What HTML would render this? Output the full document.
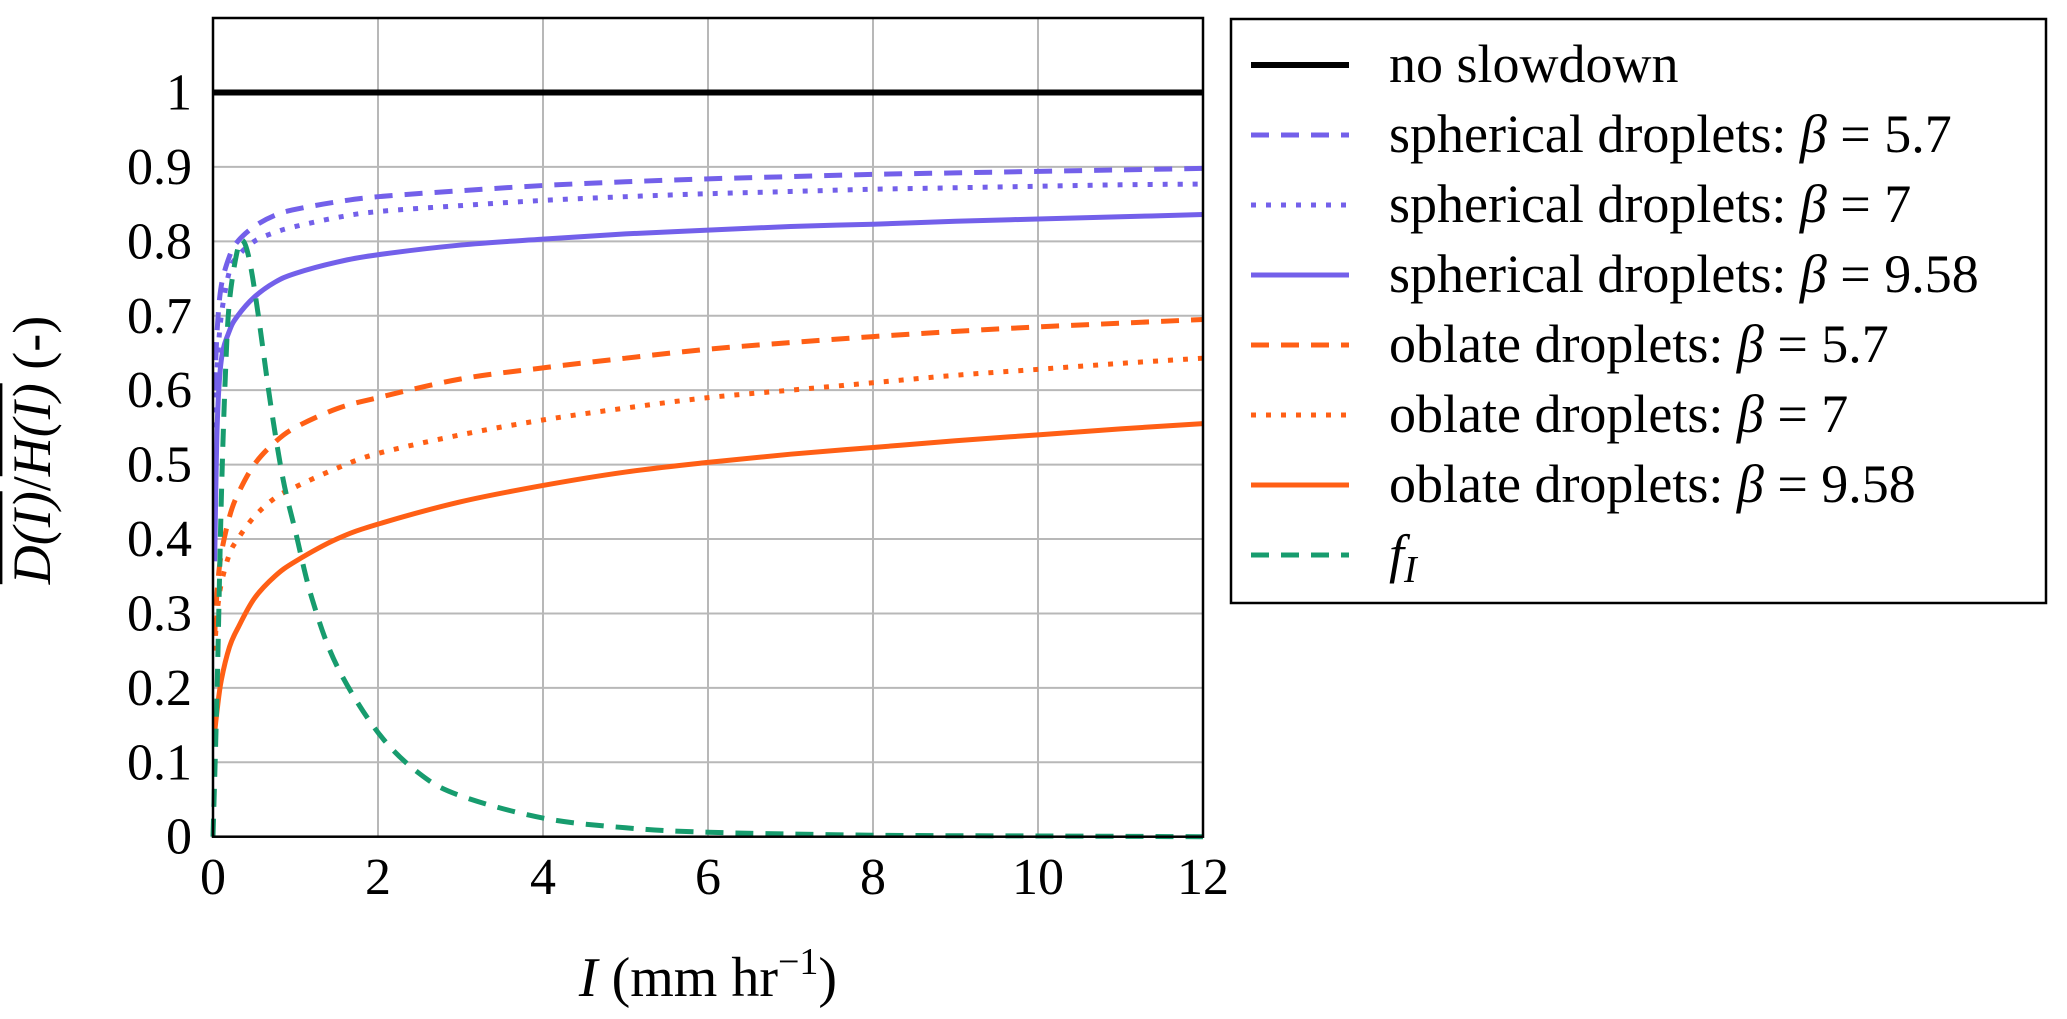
<!DOCTYPE html>
<html><head><meta charset="utf-8"><style>
html,body{margin:0;padding:0;background:#fff;}
svg{display:block;}
text{font-family:"Liberation Serif",serif;fill:#000;}
</style></head><body>
<svg id="chart" width="2067" height="1019" viewBox="0 0 2067 1019">
<g id="grid"></g>
<g id="series"></g>
<rect x="213" y="18" width="990" height="818.7" fill="none" stroke="#000" stroke-width="2.5"/>
<g id="ticks"></g>
<text x="708" y="996" font-size="56" text-anchor="middle"><tspan font-style="italic">I</tspan> (mm hr<tspan font-size="38" dy="-22">−1</tspan><tspan dy="22">)</tspan></text>
<text transform="translate(50,450) rotate(-90)" font-size="54" text-anchor="middle"><tspan text-decoration="overline" font-style="italic">D(I)</tspan>/<tspan text-decoration="overline" font-style="italic">H(I)</tspan> (-)</text>
<g id="legend"></g>
</svg>
<script>
const xTicks=[0,2,4,6,8,10,12];
const yTicks=[0,0.1,0.2,0.3,0.4,0.5,0.6,0.7,0.8,0.9,1];
const yTickLabels=["0","0.1","0.2","0.3","0.4","0.5","0.6","0.7","0.8","0.9","1"];
const Igrid=[0.02,0.05,0.1,0.2,0.3,0.5,0.75,1,1.5,2,3,4,5,6,7,8,9,10,11,12];
const sph57=[0.6,0.68,0.74,0.78,0.80,0.82,0.835,0.843,0.853,0.86,0.868,0.875,0.88,0.884,0.887,0.89,0.892,0.894,0.896,0.898];
const sph7=[0.55,0.63,0.70,0.76,0.78,0.80,0.812,0.82,0.832,0.84,0.848,0.855,0.86,0.864,0.867,0.87,0.872,0.874,0.876,0.877];
const sph958=[0.37,0.55,0.64,0.68,0.70,0.725,0.745,0.757,0.772,0.782,0.795,0.803,0.81,0.815,0.82,0.823,0.827,0.83,0.833,0.836];
const obl57=[0.27,0.33,0.38,0.43,0.46,0.50,0.53,0.55,0.575,0.59,0.615,0.63,0.643,0.655,0.664,0.672,0.679,0.685,0.69,0.695];
const obl7=[0.25,0.30,0.34,0.38,0.40,0.43,0.455,0.47,0.495,0.515,0.54,0.56,0.576,0.59,0.6,0.61,0.62,0.628,0.636,0.643];
const obl958=[0.14,0.17,0.21,0.255,0.28,0.32,0.35,0.37,0.40,0.42,0.45,0.472,0.49,0.503,0.514,0.523,0.532,0.54,0.548,0.555];
const Ifi=[0,0.05,0.1,0.15,0.2,0.3,0.37,0.45,0.55,0.7,0.85,1,1.2,1.5,2,2.5,3,4,5,6,8,10,12];
const fI=[0,0.2,0.45,0.62,0.72,0.79,0.80,0.77,0.70,0.58,0.48,0.41,0.32,0.23,0.14,0.085,0.055,0.025,0.012,0.006,0.002,0.001,0];
const noSlow=[1,1];
const noSlowI=[0,12];
const legendLabels=["no slowdown","spherical droplets: ","spherical droplets: ","spherical droplets: ","oblate droplets: ","oblate droplets: ","oblate droplets: ",""];
const legendBetas=["","5.7","7","9.58","5.7","7","9.58",""];

const NS="http://www.w3.org/2000/svg";
const X=v=>213+v*(990/12);
const Y=v=>836.7-v*744.2;
const PUR="#7360ea",ORG="#ff5f15",GRN="#179c6e";
function mk(t,a,p){const e=document.createElementNS(NS,t);for(const k in a)e.setAttribute(k,a[k]);p.appendChild(e);return e;}
const grid=document.getElementById('grid'),ticks=document.getElementById('ticks');
xTicks.forEach(t=>{
  const l=mk('line',{x1:X(t),x2:X(t),y1:18,y2:836.7,stroke:'#b8b8b8','stroke-width':2},grid);
  
  
  const tx=mk('text',{x:X(t),y:894,'font-size':52,'text-anchor':'middle'},ticks);
  tx.textContent=String(t);
  
  
});
yTicks.forEach((t,i)=>{
  const l=mk('line',{x1:213,x2:1203,y1:Y(t),y2:Y(t),stroke:'#b8b8b8','stroke-width':2},grid);
  
  
  const tx=mk('text',{x:192,y:Y(t)+17,'font-size':52,'text-anchor':'end'},ticks);
  tx.textContent=yTickLabels[i];
  
  
});
function pathD(xs,ys){
  const p=xs.map((x,i)=>[X(x),Y(ys[i])]);
  let d='M'+p[0][0]+','+p[0][1];
  for(let i=0;i<p.length-1;i++){
    const p0=p[i-1]||p[i],p1=p[i],p2=p[i+1],p3=p[i+2]||p[i+1];
    const c1=[p1[0]+(p2[0]-p0[0])/6,p1[1]+(p2[1]-p0[1])/6];
    const c2=[p2[0]-(p3[0]-p1[0])/6,p2[1]-(p3[1]-p1[1])/6];
    d+=' C'+c1+' '+c2+' '+p2;
  }
  return d;
}
const ser=document.getElementById('series');
const defs=[
 {xs:noSlowI,ys:noSlow,c:'#000',da:'',w:6,n:'no-slowdown-line'},
 {xs:Igrid,ys:sph57,c:PUR,da:'18 12',w:5,n:'spherical-beta-5.7-line'},
 {xs:Igrid,ys:sph7,c:PUR,da:'5 10',w:5,n:'spherical-beta-7-line'},
 {xs:Igrid,ys:sph958,c:PUR,da:'',w:5,n:'spherical-beta-9.58-line'},
 {xs:Igrid,ys:obl57,c:ORG,da:'18 12',w:5,n:'oblate-beta-5.7-line'},
 {xs:Igrid,ys:obl7,c:ORG,da:'5 10',w:5,n:'oblate-beta-7-line'},
 {xs:Igrid,ys:obl958,c:ORG,da:'',w:5,n:'oblate-beta-9.58-line'},
 {xs:Ifi,ys:fI,c:GRN,da:'18 12',w:5,n:'f-I-line'}
];
defs.forEach(s=>{
  const a={d:pathD(s.xs,s.ys),fill:'none',stroke:s.c,'stroke-width':s.w};
  if(s.da)a['stroke-dasharray']=s.da;
  const e=mk('path',a,ser);
  
  
});
const lg=document.getElementById('legend');
const box=mk('rect',{x:1231,y:19,width:815,height:584,fill:'#fff',stroke:'#000','stroke-width':2.5},lg);


defs.forEach((s,i)=>{
  const y=65+i*70;
  const g=mk('g',{},lg);
  
  
  const a={x1:1251,x2:1349,y1:y,y2:y,stroke:s.c,'stroke-width':s.w};
  if(s.da)a['stroke-dasharray']=s.da;
  mk('line',a,g);
  const t=mk('text',{x:1389,y:y+17,'font-size':54},g);
  if(i===7){
    t.innerHTML='<tspan font-style="italic">f</tspan><tspan font-style="italic" font-size="38" dy="10">I</tspan>';
  }else if(i===0){
    t.textContent=legendLabels[i];
  }else{
    t.innerHTML=legendLabels[i]+'<tspan font-style="italic">β</tspan> = '+legendBetas[i];
  }
});
</script>
</body></html>
